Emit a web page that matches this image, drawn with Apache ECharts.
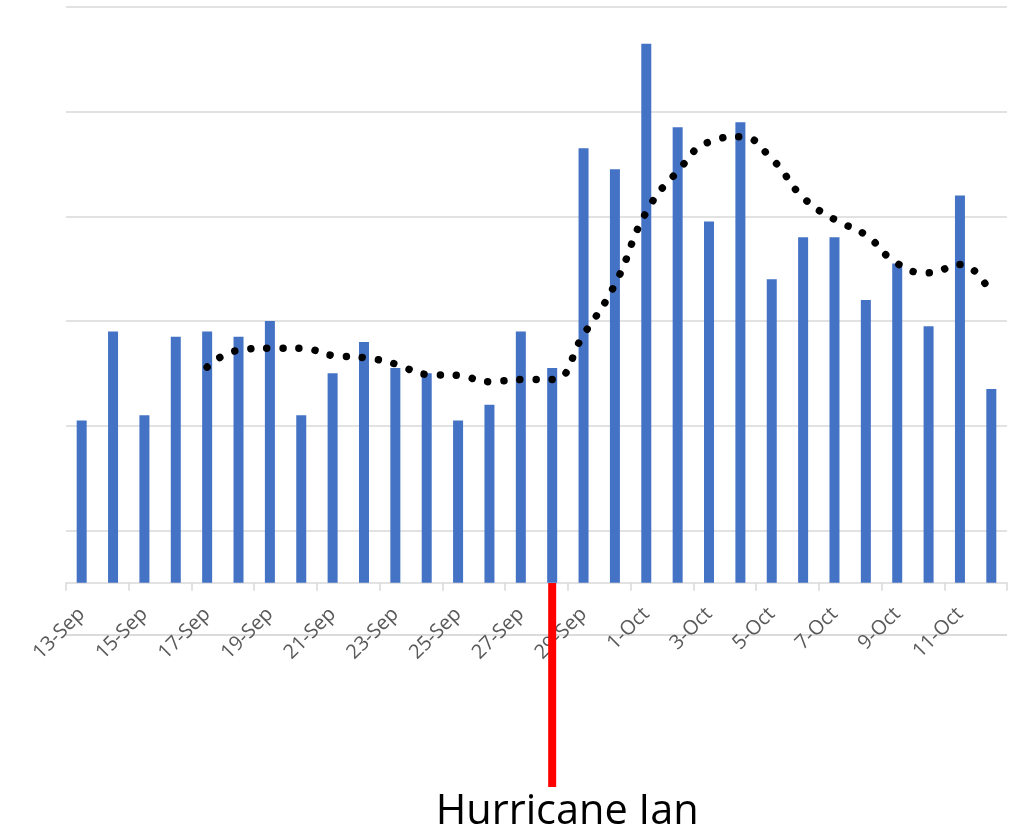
<!DOCTYPE html>
<html>
<head>
<meta charset="utf-8">
<script src="https://cdn.jsdelivr.net/npm/echarts@6/dist/echarts.min.js"></script>
<style>
html, body { margin: 0; padding: 0; background: #ffffff; }
#chart { width: 1018px; height: 829px; }
</style>
</head>
<body>
<div id="chart"></div>
<script>
// ---- data ----
const categories = ['13-Sep','14-Sep','15-Sep','16-Sep','17-Sep','18-Sep','19-Sep','20-Sep','21-Sep','22-Sep',
  '23-Sep','24-Sep','25-Sep','26-Sep','27-Sep','28-Sep','29-Sep','30-Sep','1-Oct','2-Oct',
  '3-Oct','4-Oct','5-Oct','6-Oct','7-Oct','8-Oct','9-Oct','10-Oct','11-Oct','12-Oct'];
const dailyValues = [31, 48, 32, 47, 48, 47, 50, 32, 40, 46,
  41, 40, 31, 34, 48, 41, 83, 79, 103, 87,
  69, 88, 58, 66, 66, 54, 61, 49, 74, 37];
// dotted trend line (5-day moving average as drawn in the picture)
const trendValues = [null, null, null, null, 41.2, 44.4, 44.8, 44.8, 43.4, 43.0,
  41.8, 39.8, 39.6, 38.4, 38.8, 38.8, 47.4, 57.0, 70.8, 78.6,
  84.2, 85.2, 81.0, 73.6, 69.4, 66.4, 61.0, 59.2, 60.8, 55.0];
const axisMin = -10;
const axisMax = 110;
const axisStep = 20;
const eventDay = '28-Sep';
const eventLabel = 'Hurricane Ian';

const chart = echarts.init(document.getElementById('chart'), null, { renderer: 'canvas' });
chart.setOption({
  animation: false,
  backgroundColor: '#ffffff',
  grid: [
    { left: 66, right: 11, top: 7, bottom: 194, containLabel: false },
    { left: 66, right: 11, top: 583, height: 204, containLabel: false }
  ],
  xAxis: [
    {
      type: 'category', gridIndex: 0, data: categories, boundaryGap: true,
      axisLine: { show: true, onZero: true, lineStyle: { color: '#d9d9d9', width: 1.5 } },
      axisTick: { show: true, interval: 1, length: 8, lineStyle: { color: '#d9d9d9', width: 1.5 } },
      axisLabel: { interval: 1, rotate: 45, margin: -24, color: '#595959', fontSize: 20, fontFamily: 'Open Sans' },
      splitLine: { show: false }
    },
    { type: 'category', gridIndex: 1, data: categories, boundaryGap: true, show: false }
  ],
  yAxis: [
    {
      type: 'value', gridIndex: 0, min: axisMin, max: axisMax, interval: axisStep,
      axisLine: { show: false }, axisTick: { show: false }, axisLabel: { show: false },
      splitLine: { show: true, showMinLine: true, showMaxLine: true, lineStyle: { color: '#d9d9d9', width: 1.5 } }
    },
    { type: 'value', gridIndex: 1, min: 0, max: 1, inverse: true, show: false, splitLine: { show: false } }
  ],
  series: [
    {
      type: 'bar', xAxisIndex: 0, yAxisIndex: 0, data: dailyValues, barWidth: 10,
      itemStyle: { color: '#4472C4' }, silent: true,
      markLine: {
        silent: true, symbol: ['none', 'none'], label: { show: false }, z: 0,
        lineStyle: { color: '#d9d9d9', width: 1.5, type: 'solid' },
        emphasis: { disabled: true },
        data: [{ yAxis: axisMin }]
      }
    },
    {
      type: 'line', xAxisIndex: 0, yAxisIndex: 0, data: trendValues, smooth: true,
      showSymbol: false, symbol: 'none', z: 3, silent: true,
      lineStyle: { color: '#000000', width: 7.5, type: [0.01, 16.1], cap: 'round' }
    },
    {
      type: 'bar', xAxisIndex: 1, yAxisIndex: 1,
      data: categories.map(c => (c === eventDay ? 1 : null)),
      barWidth: 8, itemStyle: { color: '#FF0000' }, silent: true, z: 5,
      label: {
        show: true, position: 'bottom', distance: 4, offset: [15, 0],
        formatter: eventLabel, fontSize: 41.5, color: '#000000', fontFamily: 'Open Sans'
      }
    }
  ]
});
</script>
</body>
</html>
